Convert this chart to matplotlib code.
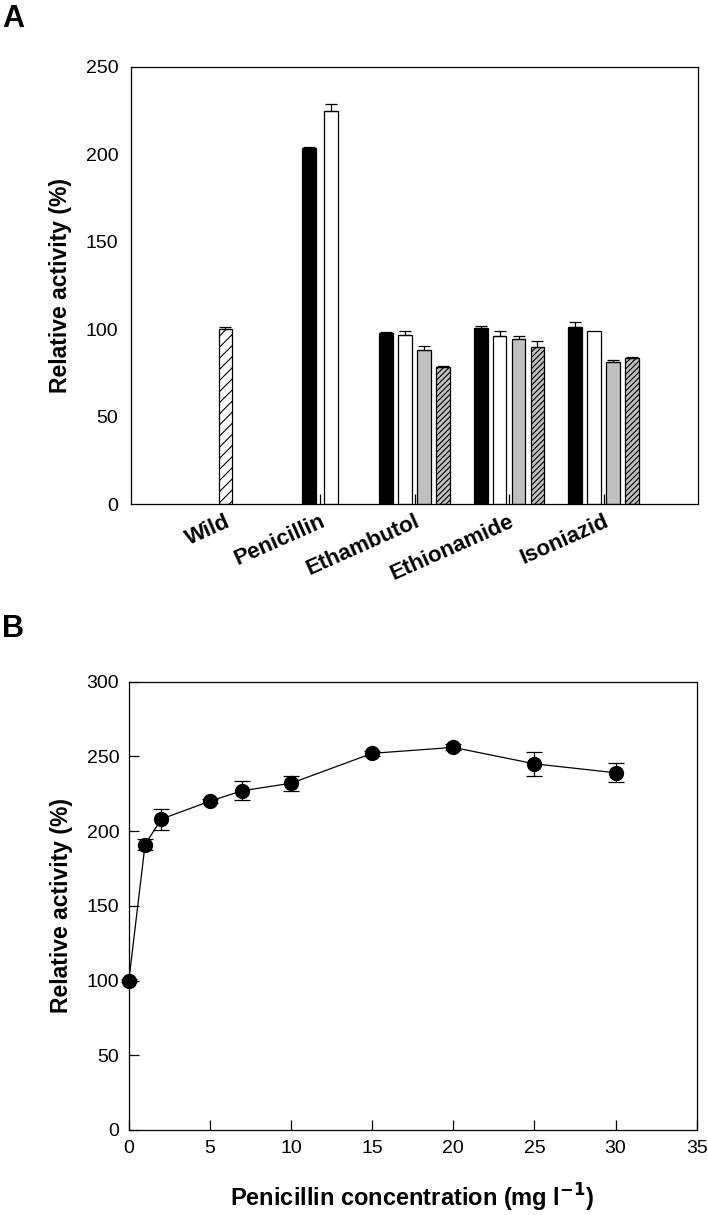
import numpy as np
import matplotlib
matplotlib.use("Agg")
from matplotlib import pyplot as plt

plt.rcParams['font.family'] = ['Liberation Sans', 'DejaVu Sans']
plt.rcParams['hatch.linewidth'] = 0.8

# panel A data
groups = ['Wild', 'Penicillin', 'Ethambutol', 'Ethionamide', 'Isoniazid']
# series per group: black, white, gray, gray hatched ; None = not present
black_vals = [None, 203.5, 98.0, 101.0, 101.5]
black_err = [None, 0.5, 0.5, 1.0, 2.6]
white_vals = [None, 224.7, 97.0, 96.4, 99.1]
white_err = [None, 4.3, 2.1, 2.7, 0.0]
gray_vals = [None, None, 88.4, 94.3, 81.4]
gray_err = [None, None, 2.3, 1.9, 1.3]
ghatch_vals = [None, None, 78.5, 89.9, 83.8]
ghatch_err = [None, None, 0.5, 3.5, 0.4]
wild_val = 100.0
wild_err = 1.5

# panel B data
conc = [0, 1, 2, 5, 7, 10, 15, 20, 25, 30]
activity = [100, 191, 208, 220, 227, 232, 252, 256, 245, 239]
activity_err = [1, 4, 7, 1.5, 6.5, 5, 1.5, 2, 8, 6.5]

fig = plt.figure(figsize=(7.08, 12.15), dpi=100)
axA = fig.add_axes([0.185, 0.585, 0.801, 0.360])
axB = fig.add_axes([0.182, 0.070, 0.802, 0.369])

bw = 0.145
styles = [
    dict(color='black', hatch=None),
    dict(color='white', hatch=None),
    dict(color='#c0c0c0', hatch=None),
    dict(color='#c0c0c0', hatch='//////'),
]
series = [(black_vals, black_err), (white_vals, white_err),
          (gray_vals, gray_err), (ghatch_vals, ghatch_err)]

for gi in range(len(groups)):
    present = [k for k in range(4) if series[k][0][gi] is not None]
    n = len(present)
    step = 0.2 if n > 2 else 0.23
    for j, k in enumerate(present):
        x = gi + 1 + (j - (n - 1) / 2) * step
        v = series[k][0][gi]
        e = series[k][1][gi]
        st = styles[k]
        axA.bar(x, v, bw, color=st['color'], edgecolor='black',
                hatch=st['hatch'], linewidth=0.9, zorder=2)
        if e > 0:
            axA.errorbar(x, v, yerr=[[0], [e]], fmt='none', ecolor='black',
                         elinewidth=0.9, capsize=4, capthick=0.9, zorder=3)

# wild type bar
axA.bar(1, wild_val, bw, color='white', edgecolor='black', hatch='///',
        linewidth=0.9, zorder=2)
axA.errorbar(1, wild_val, yerr=[[0], [wild_err]], fmt='none', ecolor='black',
             elinewidth=0.9, capsize=4, capthick=0.9, zorder=3)

axA.set_xlim(0, 6)
axA.set_ylim(0, 250)
axA.set_yticks(np.arange(0, 251, 50))
axA.set_xticks(np.arange(1, 6))
axA.set_xticklabels(groups, rotation=24, ha='right', va='top',
                    rotation_mode='anchor', fontsize=16, fontweight='bold')
axA.tick_params(axis='x', direction='in', length=7, width=0.9, pad=5)
axA.tick_params(axis='y', direction='in', length=0, labelsize=14, pad=9)
axA.set_ylabel('Relative activity (%)', fontsize=16.5, fontweight='bold', labelpad=10)
for s in axA.spines.values():
    s.set_linewidth(0.9)

# panel B
axB.errorbar(conc, activity, yerr=activity_err, fmt='-o', color='black',
             markersize=10, linewidth=0.9, elinewidth=0.9, capsize=6,
             capthick=0.9, clip_on=False, zorder=3)
axB.set_xlim(0, 35)
axB.set_ylim(0, 300)
axB.set_xticks(np.arange(0, 36, 5))
axB.set_yticks(np.arange(0, 301, 50))
axB.tick_params(direction='in', length=7, width=0.9, labelsize=14, pad=7)
axB.set_xlabel('Penicillin concentration (mg l$^{\\mathbf{-1}}$)', fontsize=17,
               fontweight='bold', labelpad=18)
axB.set_ylabel('Relative activity (%)', fontsize=16.5, fontweight='bold', labelpad=10)
for s in axB.spines.values():
    s.set_linewidth(0.9)

fig.text(0.003, 0.997, 'A', fontsize=22, fontweight='bold', va='top')
fig.text(0.003, 0.495, 'B', fontsize=22, fontweight='bold', va='top')

fig.savefig('out.png', dpi=100)
